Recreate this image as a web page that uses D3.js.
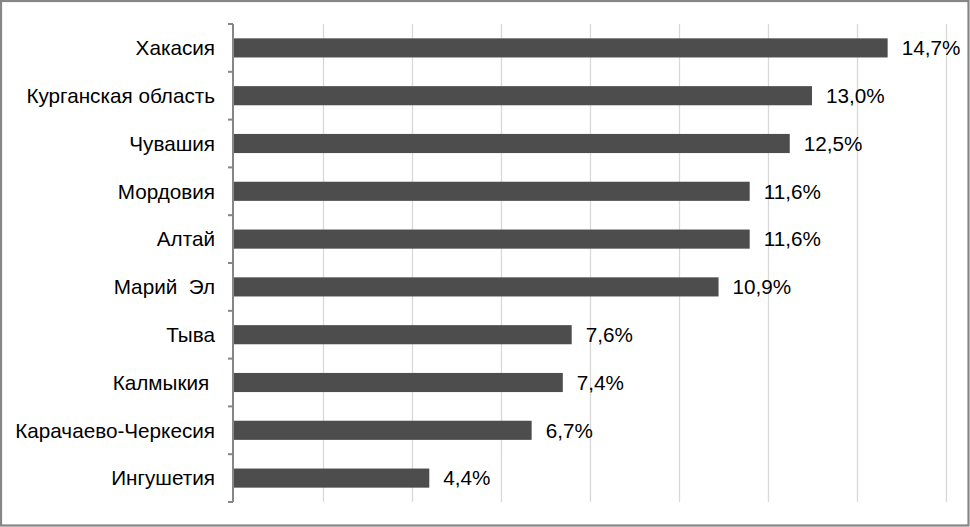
<!DOCTYPE html>
<html>
<head>
<meta charset="utf-8">
<script src="https://cdn.jsdelivr.net/npm/d3@7"></script>
<style>
  html, body { margin: 0; padding: 0; background: #fff; }
  svg { display: block; }
  text { font-family: "Liberation Sans", Arial, sans-serif; white-space: pre; }
</style>
</head>
<body>
<script>
const categories = ["Хакасия", "Курганская область", "Чувашия", "Мордовия", "Алтай", "Марий  Эл", "Тыва", "Калмыкия ", "Карачаево-Черкесия", "Ингушетия"];
const values = [14.7, 13.0, 12.5, 11.6, 11.6, 10.9, 7.6, 7.4, 6.7, 4.4];
const xTicks = [0, 2, 4, 6, 8, 10, 12, 14, 16];

const W = 970, H = 527;
const FS = 20.7;
const svg = d3.select("body").append("svg").attr("width", W).attr("height", H);

svg.append("rect").attr("x", 0).attr("y", 0).attr("width", W).attr("height", H).attr("fill", "#fff");

const x = d3.scaleLinear().domain([0, 16]).range([233.5, 945.5]);
const y = d3.scaleBand().domain(categories).range([24, 502]).paddingInner(0.6).paddingOuter(0.3);
const step = y.step();

// gridlines
svg.append("g").selectAll("line").data(xTicks.slice(1)).join("line")
  .attr("x1", d => Math.round(x(d)) + 0.5).attr("x2", d => Math.round(x(d)) + 0.5)
  .attr("y1", 24).attr("y2", 502)
  .attr("stroke", "#d9d9d9").attr("stroke-width", 1.3);

// bars
svg.append("g").selectAll("rect").data(values).join("rect")
  .attr("x", x(0))
  .attr("y", (d, i) => y(categories[i]))
  .attr("width", d => x(d) - x(0))
  .attr("height", y.bandwidth())
  .attr("fill", "#4d4d4d");

// axis line + ticks
const axisG = svg.append("g");
axisG.append("line").attr("x1", 233).attr("x2", 233).attr("y1", 24).attr("y2", 502)
  .attr("stroke", "#868686").attr("stroke-width", 2);
const tickYs = categories.map(c => y(c) + y.bandwidth() / 2 - step / 2).concat([y(categories[categories.length - 1]) + y.bandwidth() / 2 + step / 2]);
axisG.selectAll("line.tick").data(tickYs).join("line").attr("class", "tick")
  .attr("x1", 228).attr("x2", 233)
  .attr("y1", d => d).attr("y2", d => d)
  .attr("stroke", "#868686").attr("stroke-width", 2);

// category labels
svg.append("g").selectAll("text").data(categories).join("text")
  .attr("x", 215)
  .attr("y", d => y(d) + y.bandwidth() / 2)
  .attr("dy", "0.35em")
  .attr("text-anchor", "end")
  .attr("font-size", FS)
  .attr("fill", "#000")
  .text(d => d);

// value labels
svg.append("g").selectAll("text").data(values).join("text")
  .attr("x", d => x(d) + 14)
  .attr("y", (d, i) => y(categories[i]) + y.bandwidth() / 2)
  .attr("dy", "0.35em")
  .attr("font-size", FS)
  .attr("fill", "#000")
  .text(d => d.toFixed(1).replace(".", ",") + "%");

// border
svg.append("rect").attr("x", 1).attr("y", 1).attr("width", W - 2.5).attr("height", H - 2.5)
  .attr("fill", "none").attr("stroke", "#868686").attr("stroke-width", 2.2);
</script>
</body>
</html>
